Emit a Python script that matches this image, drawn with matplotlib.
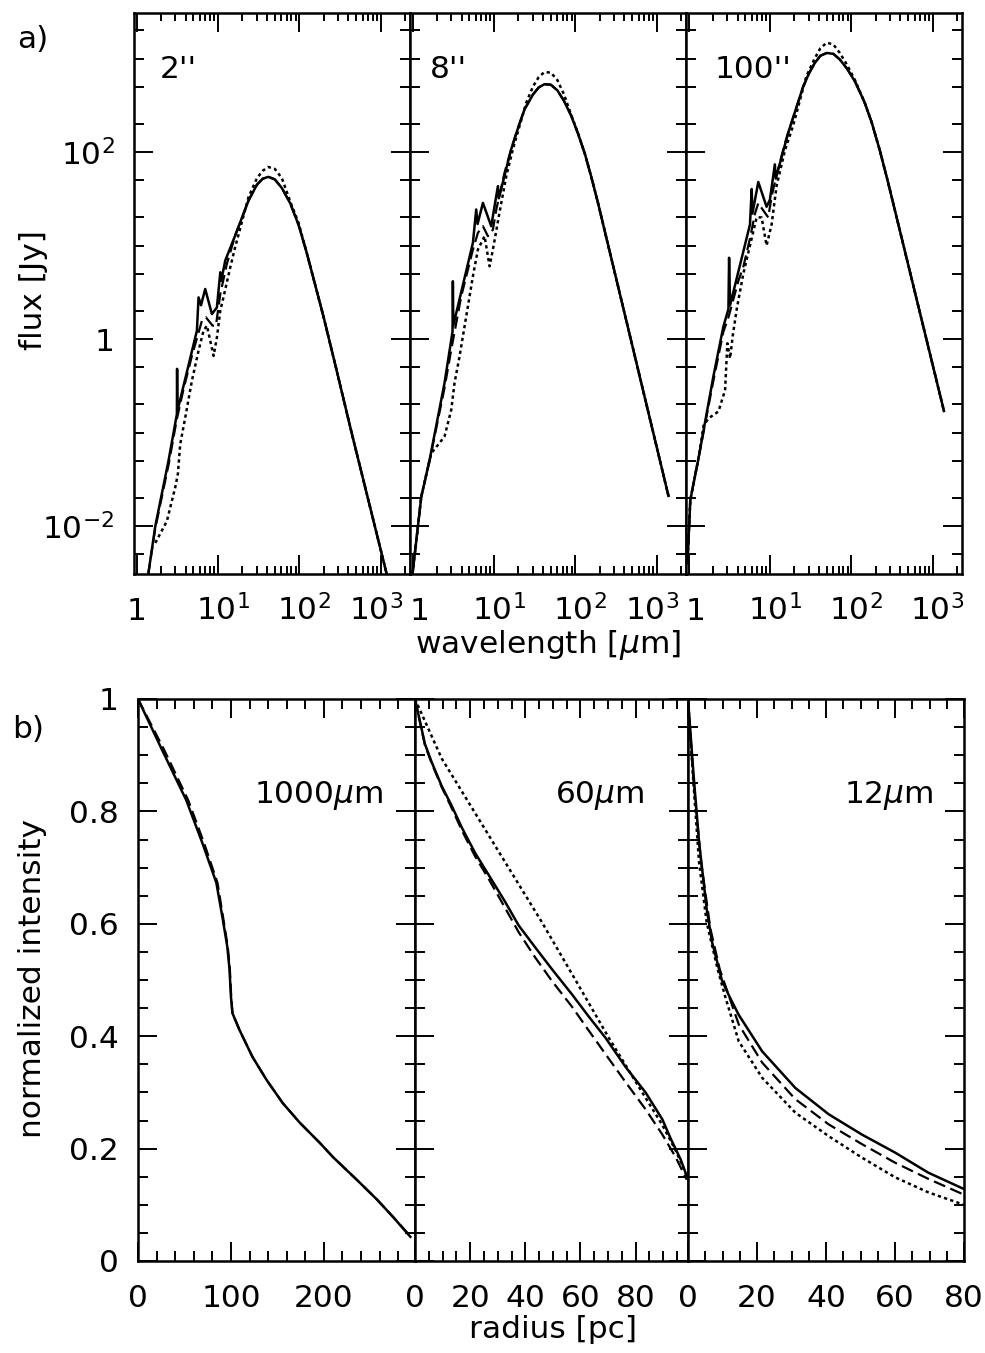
import numpy as np
import matplotlib.pyplot as plt
from matplotlib.ticker import FixedLocator, LogLocator, MultipleLocator, NullFormatter
from matplotlib.transforms import ScaledTranslation

plt.rcParams['font.family'] = ['DejaVu Sans']
plt.rcParams['mathtext.fontset'] = 'dejavusans'

# ---------------- data: a) SEDs (wavelength in micron, flux in Jy) ----------------
wl_2_sol = [1.38, 1.70, 2.47, 3.13, 3.15, 3.18, 5.52, 5.78, 6.2, 6.98, 8.44, 9.72, 10.7, 11.0,
            12.3, 16.3, 23.8, 30.2, 35.5, 41.7, 50.1, 61.2, 77.6, 98.2, 123, 157, 200, 282, 441, 1186]
fl_2_sol = [0.0029, 0.010, 0.050, 0.157, 0.48, 0.17, 1.23, 2.79, 2.3, 3.43, 1.85, 2.18, 5.18, 4.2,
            6.9, 12.8, 30.3, 44.8, 51.8, 54.3, 51, 41.2, 28.2, 16.6, 8.5, 3.8, 1.7, 0.50, 0.099, 0.0031]
wl_2_dash = [1.38, 1.70, 2.47, 3.13, 3.78, 4.79, 6.36, 7.12, 8.6, 9.45, 10.7, 12.9, 16.3, 23.8,
             30.2, 35.5, 41.7, 50.1, 61.2, 77.6, 98.2, 123, 157, 200, 282, 441, 1186]
fl_2_dash = [0.0029, 0.0095, 0.045, 0.14, 0.291, 0.66, 1.57, 1.71, 1.39, 1.39, 3.03, 6.4, 12.8, 30.3,
             44.8, 51.8, 54.3, 51, 41.2, 28.2, 16.6, 8.5, 3.8, 1.7, 0.50, 0.099, 0.0031]
wl_2_dot = [1.70, 2.36, 2.99, 3.22, 3.44, 3.97, 4.79, 5.78, 6.66, 7.33, 8.05, 8.85, 9.72, 10.7,
            11.7, 14.2, 16.3, 23.8, 30.2, 35.5, 41.7, 50.1, 61.2, 77.6, 98.2, 123, 157, 200, 282, 441, 1186]
fl_2_dot = [0.0066, 0.0113, 0.026, 0.036, 0.075, 0.145, 0.358, 0.75, 1.23, 1.39, 0.96, 0.66, 1.04, 2.01,
            2.79, 5.87, 9.6, 33, 52.5, 63, 69.2, 66, 52.5, 29.5, 17.4, 8.5, 3.8, 1.7, 0.50, 0.099, 0.0031]

wl_8_sol = [1.0, 1.28, 1.62, 2.47, 3.10, 3.13, 3.17, 5.52, 6.06, 6.3, 7.33, 9.27, 11.2, 11.5,
            16.3, 20, 23.8, 30.2, 35.5, 41.7, 50.1, 60.3, 72.4, 89.1, 108, 132, 158, 190, 1400]
fl_8_sol = [0.0031, 0.0206, 0.051, 0.338, 1.2, 4.15, 1.4, 10.7, 24.3, 17, 28.6, 16.1, 43.2, 32,
            107, 186, 286, 412, 490, 531, 525, 457, 355, 245, 158, 94.4, 53.7, 28.8, 0.021]
wl_8_dash = [1.0, 1.28, 1.62, 2.47, 2.99, 3.97, 5.52, 6.36, 7.33, 8.44, 9.72, 10.7, 13.5, 16.3,
             20, 23.8, 30.2, 35.5, 41.7, 50.1, 60.3, 72.4, 89.1, 108, 132, 158, 190, 1400]
fl_8_dash = [0.0031, 0.0206, 0.05, 0.30, 0.77, 2.87, 9.06, 13.7, 16.1, 12.6, 14.8, 24.3, 60, 107,
             186, 286, 412, 490, 531, 525, 457, 355, 245, 158, 94.4, 53.7, 28.8, 0.021]
wl_8_dot = [1.0, 1.28, 1.62, 1.70, 2.47, 2.99, 3.28, 3.78, 4.57, 5.52, 6.36, 7.68, 8.85, 9.72,
            11.7, 14.2, 17.1, 25, 30.2, 35.5, 41.7, 50.1, 60.3, 72.4, 89.1, 108, 132, 158, 190, 1400]
fl_8_dot = [0.0031, 0.0206, 0.051, 0.060, 0.0906, 0.175, 0.338, 0.652, 1.75, 4.7, 9.06, 12.6, 6.0, 9.06,
            22.4, 55.3, 107, 338, 501, 631, 716, 708, 589, 417, 251, 160, 94.4, 53.7, 28.8, 0.021]

wl_100_sol = [0.97, 1.05, 1.33, 2.02, 2.68, 3.09, 3.15, 3.24, 5.69, 5.97, 6.1, 7.2, 9.1, 10.0,
              11.5, 11.8, 16.8, 25.6, 30.2, 35.5, 41.7, 50.1, 60.3, 72.4, 89.1, 112, 146, 178, 224, 281, 1380]
fl_100_sol = [0.004, 0.019, 0.054, 0.40, 1.36, 2.09, 7.4, 2.3, 16.8, 40.2, 22, 47.8, 26, 30.9,
              73.8, 52, 161, 499, 692, 891, 1072, 1148, 1122, 977, 776, 562, 339, 209, 105, 49, 0.17]
wl_100_dash = [0.97, 1.05, 1.33, 2.02, 2.68, 3.09, 4.1, 4.71, 5.69, 6.55, 7.2, 8.28, 9.54, 10.5,
               12.1, 15.3, 16.8, 25.6, 30.2, 35.5, 41.7, 50.1, 60.3, 72.4, 89.1, 112, 146, 178, 224, 281, 1380]
fl_100_dash = [0.004, 0.019, 0.054, 0.36, 1.2, 1.7, 4.2, 5.9, 11.9, 21.9, 28.4, 23.8, 20, 33.7,
               56.9, 124, 161, 499, 692, 891, 1072, 1148, 1122, 977, 776, 562, 339, 209, 105, 49, 0.17]
wl_100_dot = [0.97, 1.05, 1.33, 1.53, 1.76, 2.33, 2.81, 3.0, 3.24, 3.5, 3.91, 4.71, 5.69, 6.87,
              7.91, 9.1, 10.5, 12.1, 15.3, 19.3, 28.1, 35.5, 41.7, 50.1, 60.3, 72.4, 89.1, 112, 146,
              178, 224, 281, 1380]
fl_100_dot = [0.004, 0.019, 0.054, 0.119, 0.142, 0.168, 0.284, 0.9, 0.62, 1.1, 2.09, 5.0, 10, 20,
              20, 10, 16.8, 43.9, 104, 192, 647, 1000, 1288, 1479, 1413, 1148, 851, 580, 339,
              209, 105, 49, 0.17]

# ---------------- data: b) radial profiles (radius in pc, normalized intensity) ----------------
r_1000_sol = [0, 26, 51.9, 69.2, 84.3, 90.8, 96, 98.4, 100, 101.6, 109.2, 123.2, 138.4, 155.7,
              174.1, 195.7, 209.7, 235.7, 257.3, 274.6, 293]
i_1000_sol = [1.0, 0.909, 0.82, 0.744, 0.673, 0.612, 0.56, 0.52, 0.47, 0.441, 0.411, 0.363, 0.322, 0.281,
              0.246, 0.21, 0.185, 0.144, 0.109, 0.078, 0.043]
r_1000_dash = [0, 28, 54, 71, 85.5, 91.5, 96.5, 98.8, 100.3, 101.6, 109.2, 123.2, 138.4, 155.7,
               174.1, 195.7, 209.7, 235.7, 257.3, 274.6, 292]
i_1000_dash = [1.0, 0.91, 0.82, 0.744, 0.673, 0.612, 0.56, 0.52, 0.47, 0.441, 0.411, 0.363, 0.322, 0.281,
               0.246, 0.21, 0.185, 0.144, 0.109, 0.078, 0.046]

r_60_sol = [0, 3.6, 6.1, 9.7, 13.3, 17, 21.8, 26.7, 32.7, 37.6, 43.6, 49.7, 57, 63, 69.1, 76.4,
            83.6, 89.7, 92.7, 96.4, 99]
i_60_sol = [1.0, 0.92, 0.887, 0.845, 0.81, 0.771, 0.726, 0.687, 0.639, 0.597, 0.558, 0.519, 0.474, 0.435,
            0.397, 0.345, 0.30, 0.252, 0.218, 0.18, 0.145]
r_60_dash = [0, 3.6, 6.1, 9.7, 13.3, 17, 21.8, 26.7, 32.7, 37.6, 43.6, 49.7, 57, 63, 69.1, 76.4,
             83.6, 89.7, 94.5, 98.5]
i_60_dash = [1.0, 0.918, 0.885, 0.843, 0.806, 0.766, 0.72, 0.68, 0.628, 0.585, 0.54, 0.498, 0.452, 0.41,
             0.368, 0.318, 0.27, 0.225, 0.185, 0.145]
r_60_dot = [0, 9.7, 21.8, 33.9, 46, 58.2, 70.3, 82.4, 89.7, 94.5, 97, 99]
i_60_dot = [1.0, 0.894, 0.797, 0.70, 0.603, 0.50, 0.397, 0.30, 0.242, 0.197, 0.17, 0.145]

r_12_sol = [0, 1.6, 3.2, 5.4, 7.0, 9.8, 11.9, 14.7, 21.5, 31.1, 40.8, 50.4, 60, 69.7, 80]
i_12_sol = [1.0, 0.866, 0.746, 0.627, 0.567, 0.50, 0.472, 0.438, 0.373, 0.308, 0.261, 0.225, 0.193, 0.157, 0.128]
r_12_dash = [0, 1.6, 3.8, 6.5, 9.2, 14.7, 21.5, 31.1, 40.8, 50.4, 60, 69.7, 80]
i_12_dash = [1.0, 0.854, 0.71, 0.591, 0.519, 0.421, 0.353, 0.288, 0.243, 0.208, 0.175, 0.146, 0.118]
r_12_dot = [0, 1.6, 3.2, 5.4, 8.6, 10.9, 14.7, 21.5, 31.1, 40.8, 50.4, 60, 69.7, 80]
i_12_dot = [1.0, 0.848, 0.71, 0.603, 0.519, 0.468, 0.391, 0.326, 0.264, 0.222, 0.184, 0.149, 0.122, 0.10]

# panel texts and tick labels
top_names = ["2''", "8''", "100''"]
bot_names = [r'1000$\mu$m', r'60$\mu$m', r'12$\mu$m']
top_xticks = [1, 10, 100, 1000]
top_xlabels = ['1', r'$10^{1}$', r'$10^{2}$', r'$10^{3}$']
top_yticks = [1e-2, 1, 1e2]
top_ylabels = [r'$10^{-2}$', '1', r'$10^{2}$']
bot_yticks = [0, 0.2, 0.4, 0.6, 0.8, 1.0]
bot_ylabels = ['0', '0.2', '0.4', '0.6', '0.8', '1']
bot_xticks = [[0, 100, 200], [0, 20, 40, 60, 80], [0, 20, 40, 60, 80]]
bot_xmax = [298, 99, 80]

W, H = 985, 1353
FS = 22.5
fig = plt.figure(figsize=(W / 100, H / 100), dpi=100)


def add_px_axes(x0, x1, ytop, ybot):
    return fig.add_axes([x0 / W, 1 - ybot / H, (x1 - x0) / W, (ybot - ytop) / H])


def shifted(ax, dx_px):
    return ax.get_xaxis_transform() + ScaledTranslation(dx_px / 100, 0, fig.dpi_scale_trans)


sol = dict(color='black', lw=1.8, ls='-')
dash = dict(color='black', lw=1.6, ls=(0, (5.5, 2.5)))
dot = dict(color='black', lw=1.8, ls=(0, (1.3, 1.3)))


def style_axes(ax):
    for s in ax.spines.values():
        s.set_linewidth(1.8)
    ax.tick_params(which='both', direction='in', top=True, right=True, width=1.4,
                   labelbottom=False, labelsize=FS, pad=14)


# ---------------- a) ----------------
top_edges = [134, 410, 686, 962]
seds = [
    [(wl_2_sol, fl_2_sol), (wl_2_dash, fl_2_dash), (wl_2_dot, fl_2_dot)],
    [(wl_8_sol, fl_8_sol), (wl_8_dash, fl_8_dash), (wl_8_dot, fl_8_dot)],
    [(wl_100_sol, fl_100_sol), (wl_100_dash, fl_100_dash), (wl_100_dot, fl_100_dot)],
]
label_x = [160, 430, 715]
for k in range(3):
    ax = add_px_axes(top_edges[k], top_edges[k + 1], 13, 574)
    (ws, fs_), (wd, fd), (wo, fo) = seds[k]
    ax.plot(wo, fo, **dot)
    ax.plot(wd, fd, **dash)
    ax.plot(ws, fs_, **sol)
    ax.set_xscale('log')
    ax.set_yscale('log')
    ax.set_xlim(0.93, 2300)
    ax.set_ylim(3.07e-3, 3070)
    ax.xaxis.set_major_locator(FixedLocator(top_xticks))
    ax.xaxis.set_minor_locator(LogLocator(base=10, subs=np.arange(2, 10), numticks=50))
    ax.yaxis.set_major_locator(FixedLocator(top_yticks))
    ax.yaxis.set_minor_locator(LogLocator(base=10, subs=(1.0, 2.0, 5.0), numticks=50))
    ax.xaxis.set_minor_formatter(NullFormatter())
    ax.yaxis.set_minor_formatter(NullFormatter())
    style_axes(ax)
    ax.tick_params(which='major', length=14)
    ax.tick_params(axis='x', which='minor', length=6)
    ax.tick_params(axis='y', which='minor', length=7)
    if k == 0:
        ax.set_yticks(top_yticks, top_ylabels)
    else:
        ax.tick_params(labelleft=False)
    for j, (v, lab) in enumerate(zip(top_xticks, top_xlabels)):
        if j == 0:
            dx = 0 if k == 0 else 7
        elif j == 3 and k < 2:
            dx = -4
        else:
            dx = 5
        ax.text(v, -0.082, lab, transform=shifted(ax, dx),
                ha='center', va='baseline', fontsize=FS)
    fig.text(label_x[k] / W, 1 - 78 / H, top_names[k], ha='left', va='baseline', fontsize=FS)

# ---------------- b) ----------------
bot_edges = [138, 415, 688, 964]
profiles = [
    [(r_1000_sol, i_1000_sol), (r_1000_dash, i_1000_dash), None],
    [(r_60_sol, i_60_sol), (r_60_dash, i_60_dash), (r_60_dot, i_60_dot)],
    [(r_12_sol, i_12_sol), (r_12_dash, i_12_dash), (r_12_dot, i_12_dot)],
]
name_right = [383, 644, 933]
for k in range(3):
    ax = add_px_axes(bot_edges[k], bot_edges[k + 1], 699, 1261)
    s_, d_, o_ = profiles[k]
    if o_ is not None:
        ax.plot(o_[0], o_[1], **dot)
    ax.plot(d_[0], d_[1], **dash)
    ax.plot(s_[0], s_[1], **sol)
    ax.set_xlim(0, bot_xmax[k])
    ax.set_ylim(0, 1)
    if k == 0:
        ax.xaxis.set_major_locator(MultipleLocator(100))
        ax.xaxis.set_minor_locator(MultipleLocator(20))
    else:
        ax.xaxis.set_major_locator(MultipleLocator(20))
        ax.xaxis.set_minor_locator(MultipleLocator(5))
    ax.yaxis.set_major_locator(MultipleLocator(0.2))
    ax.yaxis.set_minor_locator(MultipleLocator(0.05))
    style_axes(ax)
    ax.tick_params(which='major', length=14)
    ax.tick_params(which='minor', length=7)
    if k == 0:
        ax.set_yticks(bot_yticks, bot_ylabels)
    else:
        ax.tick_params(labelleft=False)
    for v in bot_xticks[k]:
        ax.text(v, -0.082, str(v), transform=ax.get_xaxis_transform(),
                ha='center', va='baseline', fontsize=FS)
    fig.text(name_right[k] / W, 1 - 803 / H, bot_names[k], ha='right', va='baseline', fontsize=FS)

# ---------------- labels ----------------
fig.text(17 / W, 1 - 40 / H, 'a)', ha='left', va='center', fontsize=FS)
fig.text(12 / W, 1 - 730 / H, 'b)', ha='left', va='center', fontsize=FS)
fig.text(33 / W, 1 - 290 / H, 'flux [Jy]', rotation=90, ha='center', va='center', fontsize=FS)
fig.text(33 / W, 1 - 978 / H, 'normalized intensity', rotation=90, ha='center', va='center', fontsize=FS)
fig.text(548 / W, 1 - 645 / H, r'wavelength [$\mu$m]', ha='center', va='center', fontsize=FS)
fig.text(553 / W, 1 - 1330 / H, 'radius [pc]', ha='center', va='center', fontsize=FS)

fig.savefig('out.png', dpi=100)
